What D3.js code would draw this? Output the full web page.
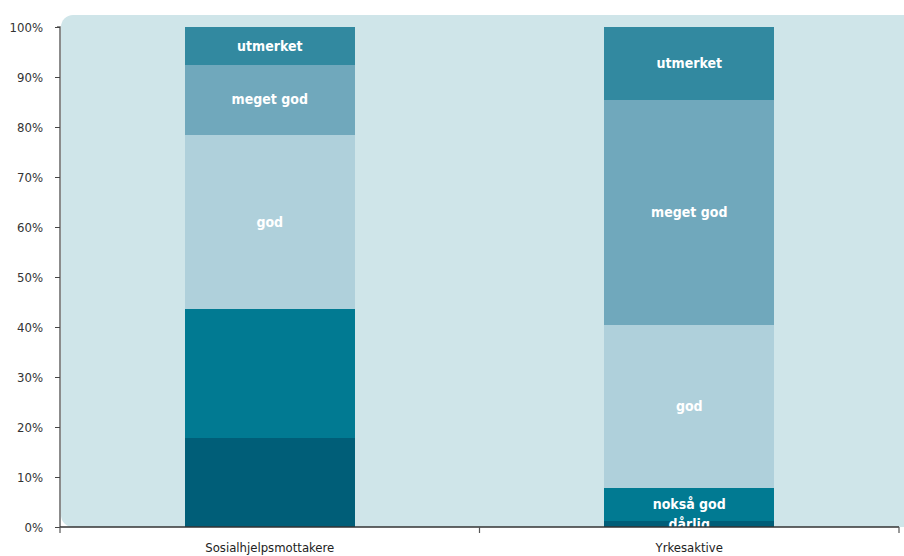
<!DOCTYPE html>
<html>
<head>
<meta charset="utf-8">
<script src="https://cdn.jsdelivr.net/npm/d3@7"></script>
<style>
  html, body { margin: 0; padding: 0; background: #ffffff; }
  svg { display: block; }
  text { font-family: "DejaVu Sans Condensed", "Liberation Sans Narrow", sans-serif; }
</style>
</head>
<body>
<svg id="chart" width="904" height="556"></svg>
<script>
const categories = ["Sosialhjelpsmottakere", "Yrkesaktive"];
const seriesNames = ["dårlig", "nokså god", "god", "meget god", "utmerket"];
const darlig   = [17.9, 1.2];
const noksaGod = [25.7, 6.6];
const god      = [34.9, 32.6];
const megetGod = [14.0, 45.0];
const utmerket = [7.5, 14.6];
const showLabel = [
  [false, false, true, true, true],
  [true, true, true, true, true]
];
const yTicks = [0, 10, 20, 30, 40, 50, 60, 70, 80, 90, 100];
const colors = ["#005e78", "#017a92", "#afd0db", "#70a8bc", "#3289a0"];

const seriesValues = [darlig, noksaGod, god, megetGod, utmerket];
const rows = categories.map((c, i) => {
  const r = { cat: c };
  seriesNames.forEach((s, j) => r[s] = seriesValues[j][i]);
  return r;
});

const svg = d3.select("#chart");
const mLeft = 60, mRight = 899, mTop = 27, mBottom = 527;

const x = d3.scaleBand().domain(categories).range([mLeft, mRight]).padding(0);
const y = d3.scaleLinear().domain([0, 100]).range([mBottom, mTop]);

// plot background
svg.append("rect")
  .attr("x", mLeft + 1).attr("y", 15)
  .attr("width", 904 - mLeft + 20).attr("height", mBottom - 15)
  .attr("rx", 12).attr("ry", 12)
  .attr("fill", "#cfe5e9");

const stack = d3.stack().keys(seriesNames)(rows);
const barW = x.bandwidth() * 0.405;

const g = svg.append("g");
stack.forEach((layer, j) => {
  g.selectAll(null).data(layer).enter().append("rect")
    .attr("x", d => x(d.data.cat) + x.bandwidth() / 2 - barW / 2)
    .attr("width", barW)
    .attr("y", d => y(d[1]))
    .attr("height", d => y(d[0]) - y(d[1]))
    .attr("shape-rendering", "crispEdges")
    .attr("fill", colors[j]);
});

// labels
stack.forEach((layer, j) => {
  layer.forEach((d, i) => {
    if (!showLabel[i][j]) return;
    g.append("text")
      .attr("x", x(d.data.cat) + x.bandwidth() / 2)
      .attr("y", (y(d[0]) + y(d[1])) / 2)
      .attr("dy", "0.35em")
      .attr("text-anchor", "middle")
      .attr("fill", "#ffffff")
      .attr("font-weight", "bold")
      .attr("font-size", 14)
      .text(seriesNames[j]);
  });
});

// y axis
const yAxis = d3.axisLeft(y).tickValues(yTicks).tickFormat(d => d + "%").tickSize(5).tickPadding(12);
const ya = svg.append("g").attr("transform", `translate(${mLeft},0)`).call(yAxis);
ya.select(".domain").attr("stroke", "#666").attr("stroke-width", 1.5).attr("d", `M-3,${mTop}H0V${mBottom}`);
ya.selectAll(".tick line").attr("stroke", "#444");
ya.selectAll(".tick text").attr("fill", "#333").attr("font-size", 13);

// x axis
const xAxis = d3.axisBottom(x).tickSize(0).tickPadding(16);
const xa = svg.append("g").attr("transform", `translate(0,${mBottom})`).call(xAxis);
xa.select(".domain").attr("stroke", "#333").attr("stroke-width", 1.5).attr("d", `M${mLeft},0H${mRight}`);
xa.selectAll(".tick text").attr("fill", "#222").attr("font-size", 13);
// boundary ticks
const bounds = categories.map(c => x(c)).concat([x(categories[categories.length - 1]) + x.bandwidth()]);
xa.selectAll(".bt").data(bounds).enter().append("line")
  .attr("x1", d => d).attr("x2", d => d)
  .attr("y1", 0).attr("y2", 6)
  .attr("stroke", "#555").attr("stroke-width", 1.2);
</script>
</body>
</html>
